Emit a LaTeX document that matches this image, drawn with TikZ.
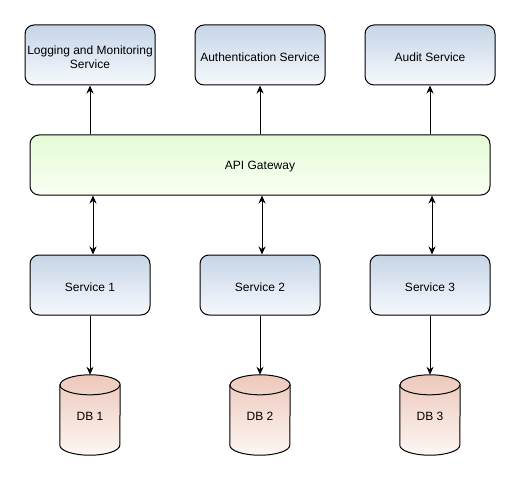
\documentclass[tikz,border=0pt]{standalone}
\usepackage{fontspec}
\setmainfont{Liberation Sans}
\usetikzlibrary{arrows.meta,calc}
\definecolor{bluetop}{HTML}{C6D5E7}
\definecolor{bluebot}{HTML}{F6F9FC}
\definecolor{greentop}{HTML}{E4FBD5}
\definecolor{greenbot}{HTML}{FAFFF4}
\definecolor{dbtop}{HTML}{EDC8BB}
\definecolor{dbbot}{HTML}{FDF6F3}
\tikzset{
  svc/.style={draw=black, line width=1pt, rounded corners=9pt, top color=bluetop, bottom color=bluebot,
    minimum width=130pt, minimum height=60pt, align=center, inner sep=0pt,
    font=\fontsize{12}{14}\selectfont},
  gw/.style={draw=black, line width=1pt, rounded corners=9pt, top color=greentop, bottom color=greenbot,
    minimum width=460pt, minimum height=60pt, inner sep=0pt, font=\fontsize{12}{14}\selectfont},
  lbl/.style={font=\fontsize{12}{14}\selectfont, align=center, inner sep=0pt},
  dbnode/.style={minimum width=60pt, minimum height=80pt, inner sep=0pt, font=\fontsize{12}{14}\selectfont},
  conn/.style={line width=1pt, -{Stealth[length=8pt,width=7pt]}},
  bconn/.style={line width=1pt, {Stealth[length=8pt,width=7pt]}-{Stealth[length=8pt,width=7pt]}},
}
\newcommand{\dbcylinder}[1]{%
  \shade[top color=dbtop, bottom color=dbbot, draw=black, line width=1pt]
    ($(#1.north west)+(0,-10pt)$) -- ($(#1.south west)+(0,10pt)$)
    arc[start angle=180, end angle=360, x radius=30pt, y radius=10pt]
    -- ($(#1.north east)+(0,-10pt)$)
    arc[start angle=0, end angle=180, x radius=30pt, y radius=10pt] -- cycle;
  \draw[line width=1pt] ($(#1.north west)+(0,-10pt)$)
    arc[start angle=180, end angle=360, x radius=30pt, y radius=10pt];
}
\begin{document}
\begin{tikzpicture}[x=1pt,y=-1pt]
\useasboundingbox (0,0) rectangle (521,481);
\node[svc] (log) at (90,55) {};
\node[svc] (auth) at (260,55) {};
\node[svc] (audit) at (430,55) {};
\node[gw] (gw) at (260,165) {};
\node[svc, minimum width=120pt] (s1) at (90,285) {};
\node[svc, minimum width=120pt] (s2) at (260,285) {};
\node[svc, minimum width=120pt] (s3) at (430,285) {};
\node[lbl] (logt) at ($(log)+(0,2)$) {Logging and Monitoring\\Service};
\node[lbl] (autht) at ($(auth)+(0,2)$) {Authentication Service};
\node[lbl] (auditt) at ($(audit)+(0,2)$) {Audit Service};
\node[lbl] (gwt) at ($(gw)+(0,2)$) {API Gateway};
\node[lbl] (s1t) at ($(s1)+(0,2)$) {Service 1};
\node[lbl] (s2t) at ($(s2)+(0,2)$) {Service 2};
\node[lbl] (s3t) at ($(s3)+(0,2)$) {Service 3};
\node[dbnode] (db1) at (90,415) {};
\node[dbnode] (db2) at (260,415) {};
\node[dbnode] (db3) at (430,415) {};
\dbcylinder{db1}
\dbcylinder{db2}
\dbcylinder{db3}
\node[lbl] (db1t) at ($(db1)+(0,1)$) {DB 1};
\node[lbl] (db2t) at ($(db2)+(0,1)$) {DB 2};
\node[lbl] (db3t) at ($(db3)+(0,1)$) {DB 3};
\draw[conn] (gw.north -| log) -- (log.south);
\draw[conn] (gw.north -| auth) -- (auth.south);
\draw[conn] (gw.north -| audit) -- (audit.south);
\draw[bconn] ($(gw.south -| s1)+(3,0)$) -- ($(s1.north)+(3,0)$);
\draw[bconn] ($(gw.south -| s2)+(2,0)$) -- ($(s2.north)+(2,0)$);
\draw[bconn] ($(gw.south -| s3)+(2,0)$) -- ($(s3.north)+(2,0)$);
\draw[conn] (s1.south) -- (db1.north);
\draw[conn] (s2.south) -- (db2.north);
\draw[conn] (s3.south) -- (db3.north);
\end{tikzpicture}
\end{document}
